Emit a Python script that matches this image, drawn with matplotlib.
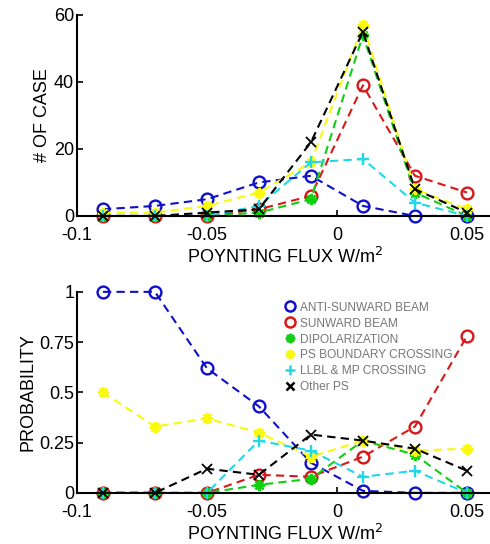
import matplotlib.pyplot as plt
import numpy as np

plt.rcParams['font.family'] = ['Liberation Sans', 'DejaVu Sans']

# bin centres of the Poynting flux
flux = [-0.09, -0.07, -0.05, -0.03, -0.01, 0.01, 0.03, 0.05]

labels = ['ANTI-SUNWARD BEAM', 'SUNWARD BEAM', 'DIPOLARIZATION',
          'PS BOUNDARY CROSSING', 'LLBL & MP CROSSING', 'Other PS']

# number of cases per bin
cnt_anti = [2, 3, 5, 10, 12, 3, 0, 0]
cnt_sun = [0, 0, 0, 2, 6, 39, 12, 7]
cnt_dipol = [0, 0, 0, 1, 5, 54, 7, 0]
cnt_psbc = [1, 1, 3, 7, 16, 57, 8, 2]
cnt_llbl = [0, 0, 0, 3, 16, 17, 4, 0]
cnt_other = [0, 0, 1, 2, 22, 55, 8, 1]

# probability per bin
p_anti = [1, 1, 0.62, 0.43, 0.15, 0.01, 0, 0]
p_sun = [0, 0, 0, 0.09, 0.08, 0.18, 0.33, 0.78]
p_dipol = [0, 0, 0, 0.04, 0.07, 0.26, 0.19, 0]
p_psbc = [0.5, 0.33, 0.37, 0.30, 0.18, 0.26, 0.21, 0.22]
p_llbl = [0, 0, 0, 0.26, 0.21, 0.08, 0.11, 0]
p_other = [0, 0, 0.12, 0.09, 0.29, 0.26, 0.22, 0.11]

colors = ['#1010c8', '#d81818', '#10d010', '#f8f810', '#20d8e8', 'black']
markers = ['o', 'o', (8, 2, 0), (8, 2, 0), '+', 'x']
msizes = [8.5, 8.5, 8, 8, 9, 7]

fig = plt.figure(figsize=(4.9, 5.44), dpi=100)
ax1 = fig.add_axes([0.157, 0.603, 0.849, 0.3695])
ax2 = fig.add_axes([0.157, 0.094, 0.849, 0.3695])

top = [cnt_anti, cnt_sun, cnt_dipol, cnt_psbc, cnt_llbl, cnt_other]
bot = [p_anti, p_sun, p_dipol, p_psbc, p_llbl, p_other]

for ax, series in [(ax1, top), (ax2, bot)]:
    for ys, c, m, ms, lab in zip(series, colors, markers, msizes, labels):
        ax.plot(flux, ys, ls='--', color=c, lw=1.5, marker=m, ms=ms,
                mfc='none' if m == 'o' else c, mec=c,
                mew=1.3 if m == 'x' else 1.7, label=lab,
                clip_on=False, dashes=(4, 2.5))

for ax in (ax1, ax2):
    ax.set_xlim(-0.1, 0.06)
    ax.set_xticks([-0.1, -0.05, 0, 0.05])
    ax.set_xticklabels(['-0.1', '-0.05', '0', '0.05'])
    ax.spines['top'].set_visible(False)
    ax.spines['right'].set_visible(False)
    ax.spines['left'].set_linewidth(1.5)
    ax.spines['bottom'].set_linewidth(1.5)
    ax.tick_params(direction='in', length=4, width=1.2, labelsize=13, pad=2)
    ax.tick_params(axis='x', pad=8)
    ax.set_xlabel('POYNTING FLUX W/m$^2$', fontsize=13, labelpad=2)

ax1.set_ylim(0, 60)
ax1.set_yticks([0, 20, 40, 60])
ax1.set_ylabel('# OF CASE', fontsize=13, labelpad=2)

ax2.set_ylim(0, 1)
ax2.set_yticks([0, 0.25, 0.5, 0.75, 1])
ax2.set_yticklabels(['0', '0.25', '0.5', '0.75', '1'])
ax2.set_ylabel('PROBABILITY', fontsize=13, labelpad=2)

handles = [plt.Line2D([], [], ls='none', color=c, marker=m, ms=ms * 0.85,
                      mfc='none' if m == 'o' else c, mec=c, mew=1.8)
           for c, m, ms in zip(colors, markers, msizes)]
leg = ax2.legend(handles, labels, loc='upper left', bbox_to_anchor=(0.49, 0.975),
                 frameon=False, fontsize=8.6, handlelength=0.8, handletextpad=0.4,
                 labelspacing=0.33, borderaxespad=0)
for t in leg.get_texts():
    t.set_color('#777777')

fig.savefig('out.png', dpi=100)
